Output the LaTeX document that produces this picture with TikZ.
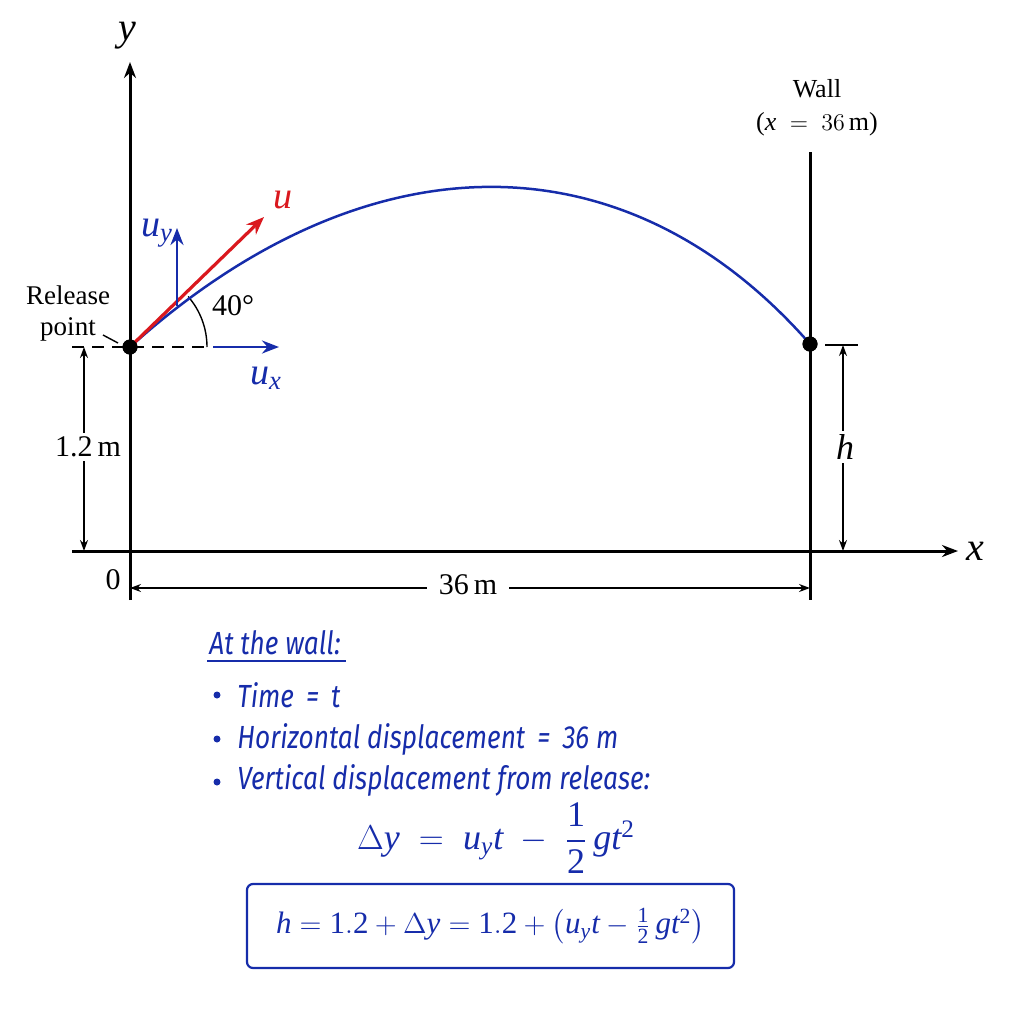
\documentclass[tikz,border=0pt]{standalone}
\usepackage{amsmath}
\usepackage{fontspec}
\setmainfont{Liberation Serif}
\newfontfamily\handfont[FakeStretch=0.82]{Fira Sans}
\usetikzlibrary{arrows.meta}
\newcommand{\vi}[1]{\mathit{#1}}
\newcommand{\vr}[1]{\mathrm{#1}}
\definecolor{ablue}{RGB}{22,44,170}
\definecolor{ared}{RGB}{218,24,30}
\tikzset{
  axisline/.style={line width=1.5pt,-{Stealth[length=8pt,width=6pt]}},
  wallline/.style={line width=1.5pt},
  dimline/.style={line width=0.7pt,{Stealth[length=5.5pt,width=4pt]}-{Stealth[length=5.5pt,width=4pt]}},
  thinline/.style={line width=0.7pt},
  vecblue/.style={ablue,line width=1.4pt,-{Stealth[length=8.5pt,width=6.5pt]}},
  vecred/.style={ared,line width=1.6pt,-{Stealth[length=9pt,width=7pt]}},
  traj/.style={ablue,line width=1.25pt},
  dot/.style={circle,fill=black,inner sep=0pt,minimum size=7.5pt},
  lab/.style={font=\fontsize{15}{17}\selectfont,inner sep=1pt},
  dimlab/.style={font=\fontsize{15}{17}\selectfont,fill=white,inner sep=2pt},
  hand/.style={ablue,font=\handfont\itshape\fontsize{16}{18}\selectfont,anchor=west,inner sep=0pt},
}
\begin{document}
\begin{tikzpicture}[x=0.5pt,y=-0.5pt]
\useasboundingbox (0,0) rectangle (1024,1024);
% axes
\coordinate (ybot) at (130,600);
\coordinate (ytop) at (130,62);
\coordinate (xl) at (72,551);
\coordinate (xr) at (958,551);
\draw[axisline] (ybot) -- (ytop);
\draw[axisline] (xl) -- (xr);
\node[font=\fontsize{20}{22}\selectfont] (ylab) at (127,36) {$\vi{y}$};
\node[font=\fontsize{20}{22}\selectfont] (xlab) at (975,551) {$\vi{x}$};
% wall
\coordinate (wtop) at (810,152);
\coordinate (wbot) at (810,600);
\draw[wallline] (wtop) -- (wbot);
\node[align=center,font=\fontsize{13}{16.5}\selectfont] (walllab) at (817,108) {Wall\\($\vi{x}\;=\;36\,$m)};
% release dashed line and angle
\coordinate (dl) at (72,347);
\coordinate (dr) at (207,347);
\draw[thinline,dashed,dash pattern=on 6pt off 4pt] (dl) -- (dr);
\draw[thinline] (dr) arc[start angle=0,end angle=-41,radius=77];
\node[lab] (ang) at (233,306) {40°};
% trajectory
\node[dot] (R) at (130,347) {};
\node[dot] (W) at (810,344) {};
\draw[traj] (R.center) .. controls (367,134) and (626,134) .. (W.center);
% velocity vectors
\coordinate (utip) at (264,217);
\draw[vecred] (R.center) -- (utip);
\node[ared,font=\fontsize{19}{21}\selectfont] (ulab) at (283,200) {$\vi{u}$};
\coordinate (uyb) at (177,306);
\coordinate (uyt) at (177,228);
\draw[vecblue] (uyb) -- (uyt);
\node[ablue,font=\fontsize{19}{21}\selectfont] (uylab) at (157,233) {$\vi{u}_{\vi{y}}$};
\coordinate (uxl) at (213,347);
\coordinate (uxr) at (279,347);
\draw[vecblue] (uxl) -- (uxr);
\node[ablue,font=\fontsize{19}{21}\selectfont] (uxlab) at (266,378) {$\vi{u}_{\vi{x}}$};
\node[dot] at (R) {};
\node[dot] at (W) {};
% release label
\node[align=center,font=\fontsize{13.5}{15.5}\selectfont] (rel) at (68,313) {Release\\point};
\coordinate (ls) at (103,335);
\coordinate (le) at (118,343);
\draw[thinline] (ls) -- (le);
% 1.2 m dimension
\coordinate (d1t) at (84,347);
\coordinate (d1b) at (84,551);
\draw[dimline] (d1t) -- (d1b);
\node[dimlab] (d1lab) at (88,447) {1.2\,m};
% origin
\node[lab] (zero) at (113,580) {0};
% 36 m dimension
\coordinate (d2l) at (130,588);
\coordinate (d2r) at (810,588);
\draw[dimline] (d2l) -- (d2r);
\node[dimlab,inner xsep=6pt] (d2lab) at (468,585) {36\,m};
% h dimension
\coordinate (htl) at (825,345);
\coordinate (htr) at (858,345);
\draw[thinline] (htl) -- (htr);
\coordinate (h1) at (843,345);
\coordinate (h2) at (843,551);
\draw[dimline] (h1) -- (h2);
\node[dimlab,font=\fontsize{18}{20}\selectfont] (hlab) at (845,447) {$\vi{h}$};
% text block
\node[hand] (t0) at (209,643) {At the wall:};
\coordinate (ul1) at (207,661);
\coordinate (ul2) at (346,661);
\draw[ablue,line width=1pt] (ul1) -- (ul2);
\fill[ablue] (217,695) circle (3.5);
\fill[ablue] (217,739) circle (3.5);
\fill[ablue] (217,782) circle (3.5);
\node[hand] (t1) at (237,695) {Time \,=\, t};
\node[hand] (t2) at (237,739) {Horizontal displacement \,=\, 36 m};
\node[hand] (t3) at (237,780) {Vertical displacement from release:};
\node[ablue,font=\fontsize{18}{21}\selectfont,inner sep=0pt] (eq1) at (496,838) {$\Delta \vi{y} \;=\; \vi{u}_{\vi{y}} \vi{t} \;-\; \dfrac{\vr{1}}{\vr{2}}\, \vi{g}\vi{t}^{\vr{2}}$};
\node[ablue,draw=ablue,line width=1.1pt,rounded corners=3pt,minimum width=243.5pt,minimum height=42pt,inner xsep=2pt,font=\fontsize{15.5}{18}\selectfont] (eq2) at (490.5,926) {$\vi{h} = \vr{1.2} + \Delta \vi{y} = \vr{1.2} + \left(\vi{u}_{\vi{y}} \vi{t} - \tfrac{\vr{1}}{\vr{2}}\, \vi{g}\vi{t}^{\vr{2}}\right)$};
\end{tikzpicture}
\end{document}
